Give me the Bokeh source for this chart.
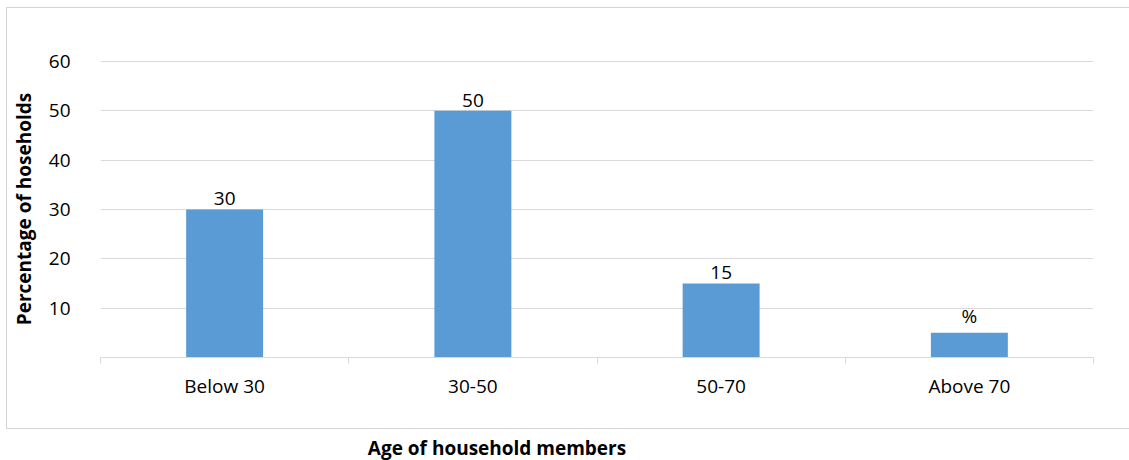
from bokeh.plotting import figure
from bokeh.layouts import column
from bokeh.models import ColumnDataSource, FixedTicker, Range1d, Div
from bokeh.core.properties import value
from bokeh.embed import file_html
from bokeh.resources import INLINE

# Share of households by age of household members
categories = ["Below 30", "30-50", "50-70", "Above 70"]
values = [30, 50, 15, 5]
value_labels = ["30", "50", "15", "%"]
y_ticks = [10, 20, 30, 40, 50, 60]

FONT = "Open Sans"
GRID = "#d9d9d9"
FS = "19px"

n = len(categories)
centers = [i + 0.5 for i in range(n)]
source = ColumnDataSource(dict(x=centers, top=values, lab=value_labels))

p = figure(width=1124, height=422, output_backend="svg", toolbar_location=None,
           x_range=Range1d(0, n), y_range=Range1d(0, 60.2),
           min_border_left=93, min_border_right=38, min_border_top=52,
           min_border_bottom=73)
p.outline_line_color = None
p.background_fill_color = "white"
p.border_fill_color = "white"
p.margin = (7, 0, 0, 6)
# chart box: open on the right side, where it runs on past the page edge
p.styles = {"border-top": "1px solid #d4d4d4", "border-left": "1px solid #d4d4d4",
            "border-bottom": "1px solid #d4d4d4"}

p.vbar(x="x", top="top", width=0.31, source=source, color="#5b9bd5", line_color=None)
p.text(x="x", y="top", text="lab", source=source, text_align="center",
       text_baseline="bottom", y_offset=-4, text_font_size=FS,
       text_font=value(FONT), text_color="#000000")

# x axis: labels under the bars, short ticks at the category boundaries
xa = p.xaxis[0]
xa.ticker = FixedTicker(ticks=centers, minor_ticks=list(range(n + 1)))
xa.major_label_overrides = {c: lab for c, lab in zip(centers, categories)}
xa.major_tick_line_color = None
xa.major_tick_out = 0
xa.minor_tick_in = 0
xa.minor_tick_out = 6
xa.minor_tick_line_color = GRID
xa.axis_line_color = GRID
xa.major_label_text_font = FONT
xa.major_label_text_font_size = FS
xa.major_label_text_color = "#000000"
xa.major_label_standoff = 9

ya = p.yaxis[0]
ya.ticker = FixedTicker(ticks=y_ticks)
ya.axis_line_color = None
ya.major_tick_line_color = None
ya.major_tick_out = 0
ya.minor_tick_line_color = None
ya.major_label_text_font = FONT
ya.major_label_text_font_size = FS
ya.major_label_text_color = "#000000"
ya.major_label_standoff = 30
ya.axis_label = "Percentage of hoseholds"
ya.axis_label_text_font = FONT
ya.axis_label_text_font_size = FS
ya.axis_label_text_font_style = "bold"
ya.axis_label_text_color = "#000000"
ya.axis_label_standoff = 9

p.xgrid.grid_line_color = None
p.ygrid.grid_line_color = GRID
p.ygrid.ticker = FixedTicker(ticks=y_ticks)

title = Div(text="Age of household members", width=400, margin=(8, 0, 0, 297),
            styles={"text-align": "center", "font-family": FONT, "font-size": FS,
                    "font-weight": "bold", "color": "#000000", "line-height": "22px"})

layout = column(p, title, spacing=0)
open("out.html", "w").write(file_html(layout, INLINE))
